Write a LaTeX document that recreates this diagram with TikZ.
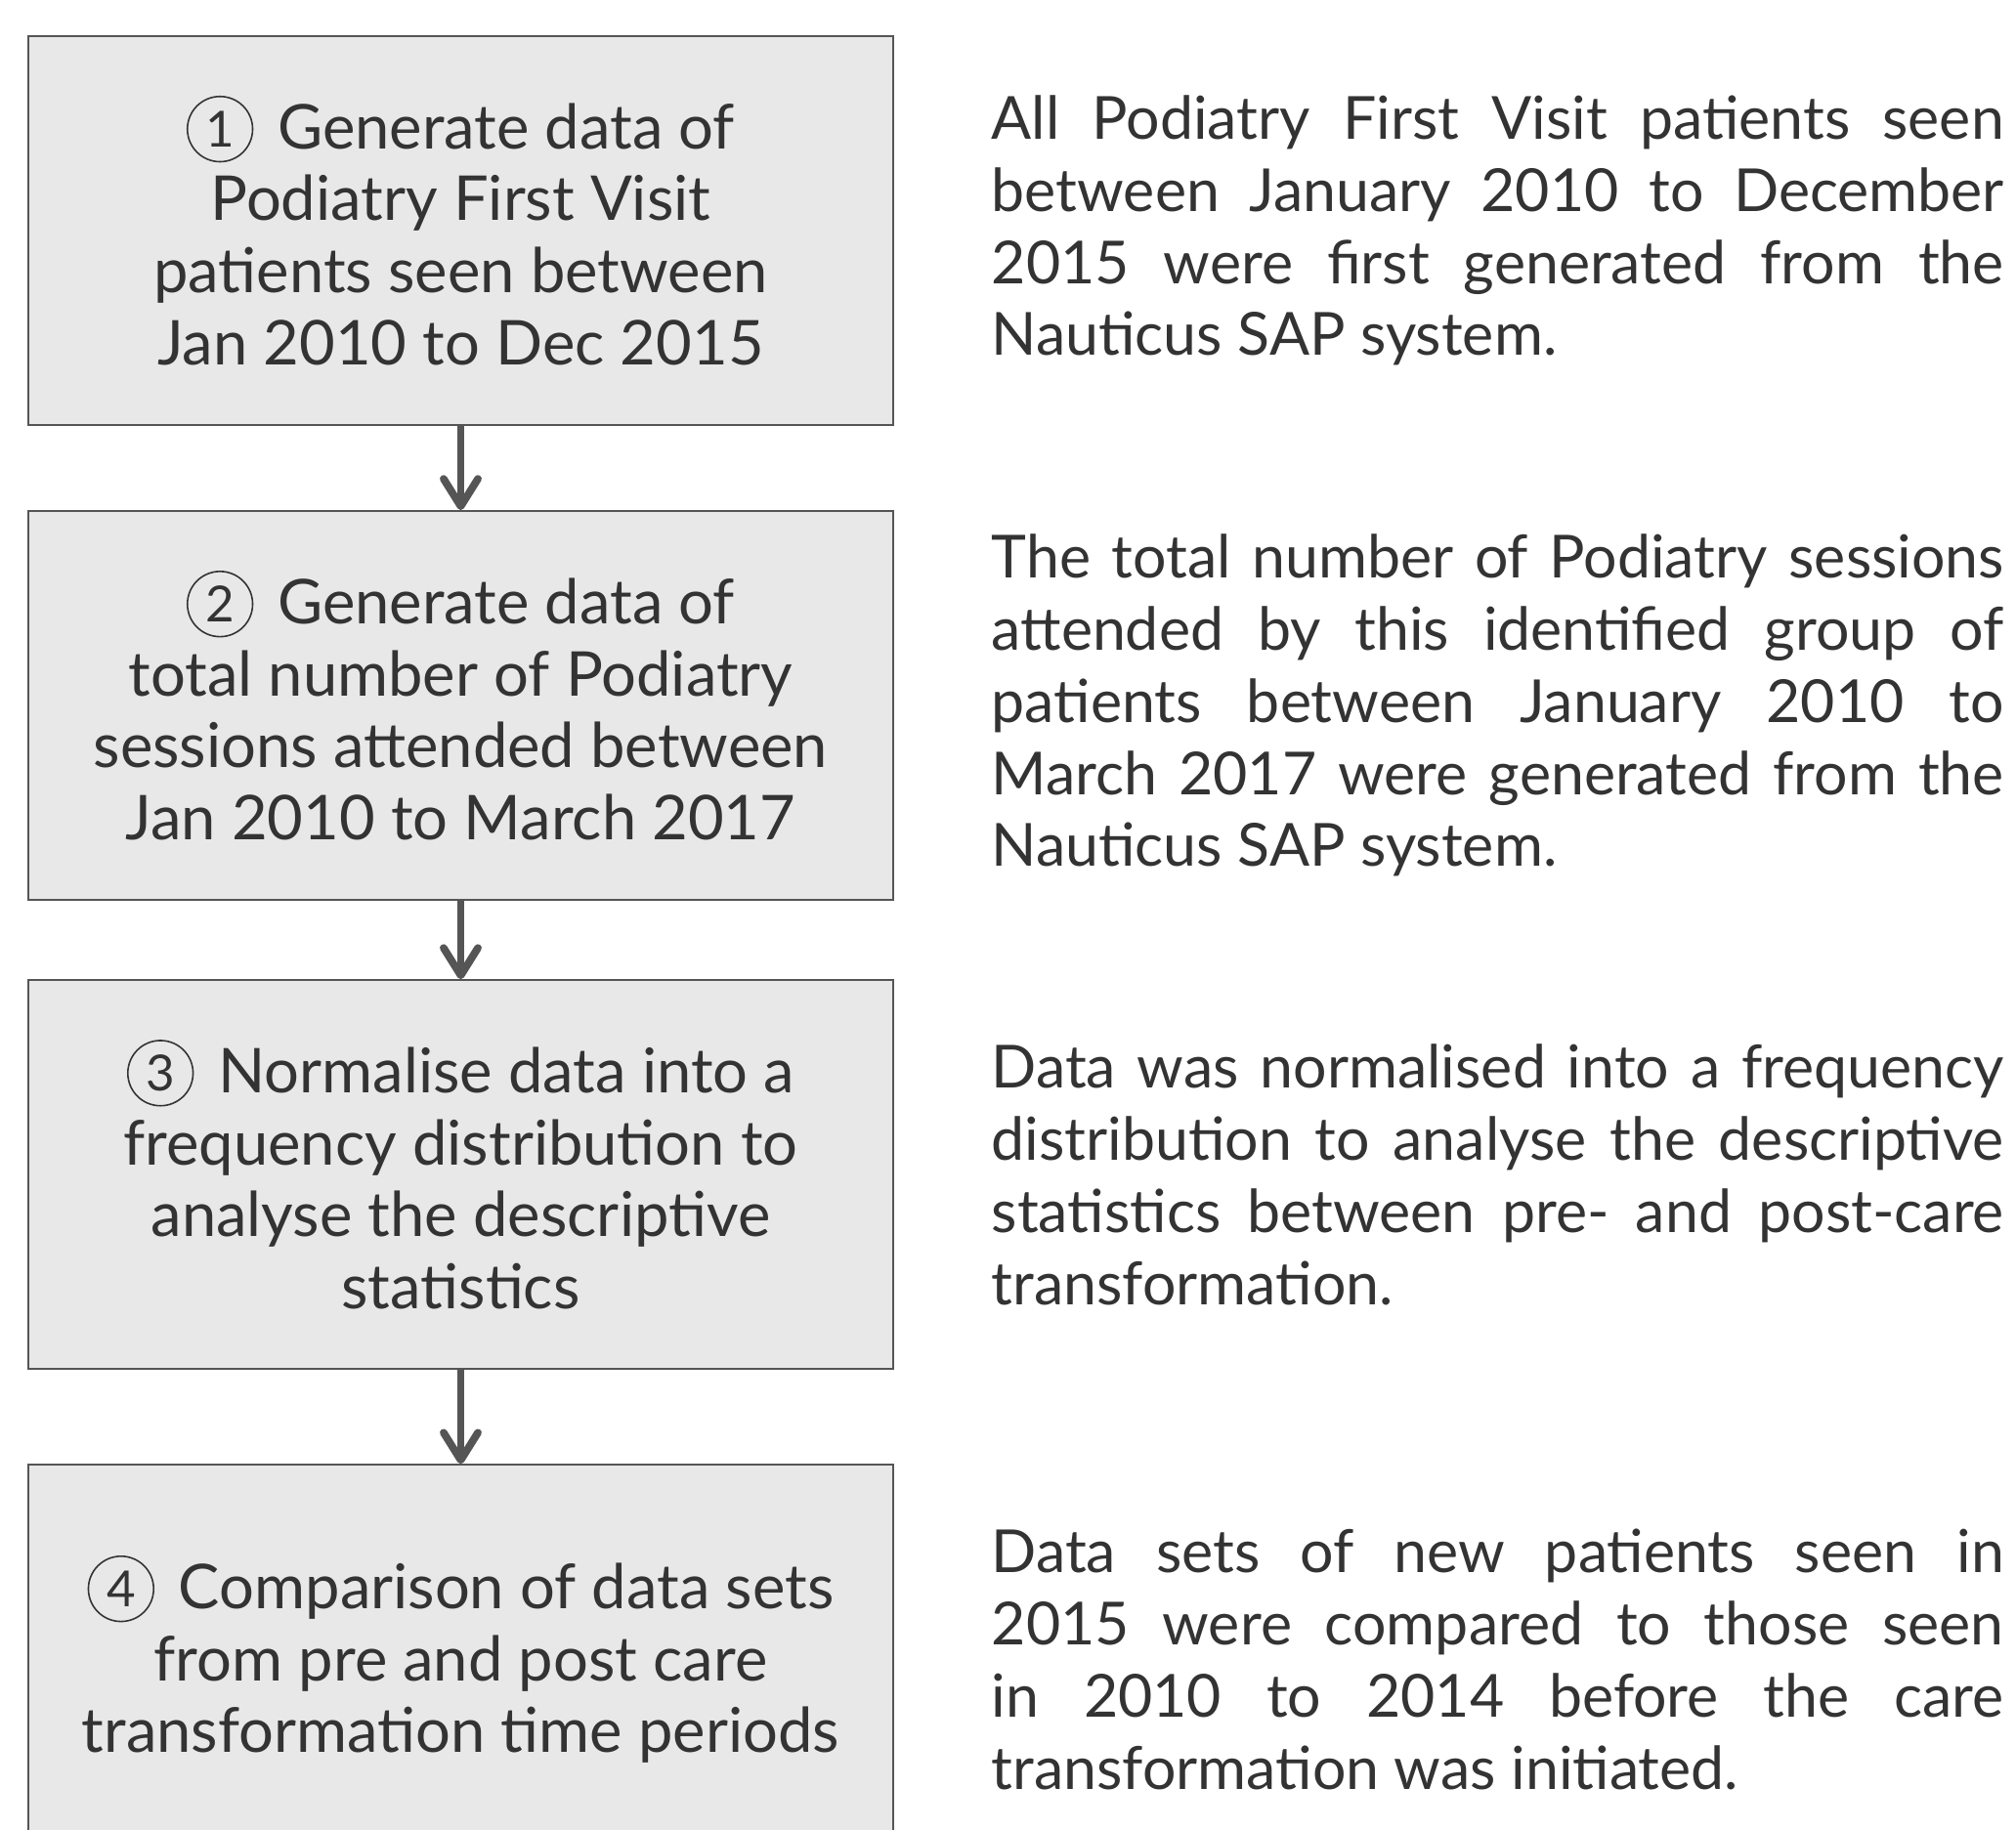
\documentclass[tikz,border=0pt]{standalone}
\usepackage{fontspec}
\setmainfont{Lato}
\usetikzlibrary{positioning}
\usetikzlibrary{arrows.meta}
\definecolor{boxgray}{HTML}{E8E8E8}
\definecolor{edgegray}{HTML}{555555}
\definecolor{textgray}{HTML}{333333}
% circled step number
\newcommand{\stepnum}[1]{\tikz[baseline={([yshift=-5.7pt]num.center)}]
  \node[circle, draw=textgray, line width=0.45pt, inner sep=0pt, minimum size=19pt,
    font=\rmfamily\fontsize{14.5}{14.5}\selectfont] (num) {#1};\hspace{2.5pt}}

\begin{document}
\begin{tikzpicture}[
  stepbox/.style={draw=edgegray, line width=0.6pt, fill=boxgray,
    minimum width=8.85cm, minimum height=3.98cm, align=center,
    text=textgray, font=\fontsize{18}{21}\selectfont},
  desc/.style={text width=10.36cm, align=justify, inner sep=0pt,
    text=textgray, font=\fontsize{17.3}{21}\selectfont},
  flow/.style={edgegray, line width=2.2pt,
    -{Straight Barb[round,length=8pt,width=10pt]}}
]
% Page frame (the last box runs off the bottom)
\clip (0,0) rectangle (20.63,-18.73);

% Draw the steps
\node[stepbox] (step1) at (4.715,-2.36)
  {\stepnum{1} Generate data of\\ Podiatry First Visit\\ patients seen between\\ Jan 2010 to Dec 2015};
\node[stepbox, below=0.86cm of step1] (step2)
  {\stepnum{2} Generate data of\\ total number of Podiatry\\ sessions attended between\\ Jan 2010 to March 2017};
\node[stepbox, below=0.80cm of step2] (step3)
  {\stepnum{3} Normalise data into a\\ frequency distribution to\\ analyse the descriptive\\ statistics};
\node[stepbox, below=0.96cm of step3] (step4)
  {\stepnum{4} Comparison of data sets\\ from pre and post care\\ transformation time periods};

% Draw the arrows
\draw[flow] (step1) -- (step2);
\draw[flow] (step2) -- (step3);
\draw[flow] (step3) -- (step4);

% Descriptions on the right
\node[desc, right=0.99cm of step1] (desc1) {%
  All Podiatry First Visit patients seen\linebreak
  between January 2010 to December\linebreak
  2015 were first generated from the\linebreak
  Nauticus SAP system.};
\node[desc, right=0.99cm of step2] (desc2) {%
  The total number of Podiatry sessions\linebreak
  attended by this identified group of\linebreak
  patients between January 2010 to\linebreak
  March 2017 were generated from the\linebreak
  Nauticus SAP system.};
\node[desc, right=0.99cm of step3] (desc3) {%
  Data was normalised into a frequency\linebreak
  distribution to analyse the descriptive\linebreak
  statistics between pre- and post-care\linebreak
  transformation.};
\node[desc, right=0.99cm of step4] (desc4) {%
  Data sets of new patients seen in\linebreak
  2015 were compared to those seen\linebreak
  in 2010 to 2014 before the care\linebreak
  transformation was initiated.};

\end{tikzpicture}
\end{document}
